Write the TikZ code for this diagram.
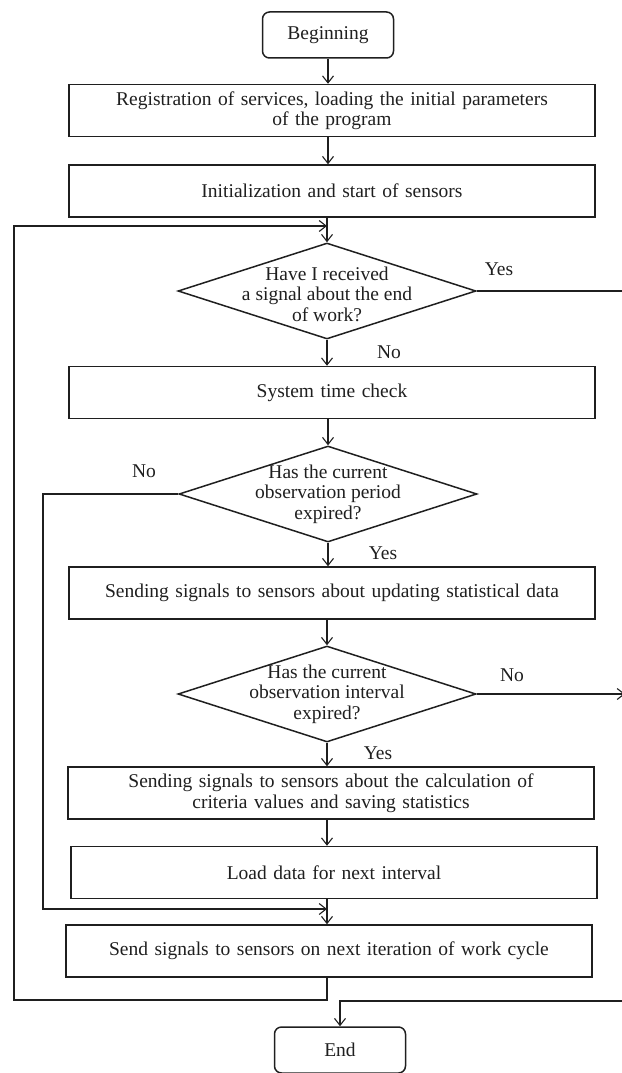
\documentclass[tikz,border=0pt]{standalone}
\usepackage{fontspec}
\setmainfont{Liberation Serif}
\usetikzlibrary{shapes.geometric,arrows.meta}
\begin{document}
\begin{tikzpicture}[x=1pt,y=-1pt,
  every node/.style={font=\fontsize{19.5}{20.5}\selectfont, text=black!88},
  proc/.style={draw=black!88, line width=1.5pt, minimum width=526pt, minimum height=52pt, text width=515pt, align=center, inner sep=0pt},
  term/.style={draw=black!88, rounded corners=7pt, line width=1.5pt, minimum width=131pt, minimum height=46pt, inner sep=0pt},
  dec/.style={draw=black!88, diamond, line width=1.5pt, minimum width=298pt, minimum height=96pt, inner sep=0pt},
  dtext/.style={align=center, inner sep=0pt},
  lbl/.style={inner sep=0pt},
  conn/.style={line width=1.3pt, draw=black!88},
  arr/.style={conn, -{Straight Barb[length=7pt,width=11pt,line width=1.1pt]}},
]
\useasboundingbox (0,0) rectangle (621,1073);

% nodes
\node[term] (begin) at (328,35) {Beginning};
\node[proc] (reg) at (332,110.5) {Registration of services, loading the initial parameters\\of the program};
\node[proc] (init) at (332,191) {Initialization and start of sensors};
\node[dec] (d1) at (327,291) {};
\node[dtext] (t1) at ([yshift=-3pt]d1.center) {Have I received\\a signal about the end\\of work?};
\node[proc] (time) at (332,392.5) {System time check};
\node[dec] (d2) at (328,494) {};
\node[dtext] (t2) at (d2.center) {Has the current\\observation period\\expired?};
\node[proc] (upd) at (332,593) {Sending signals to sensors about updating statistical data};
\node[dec] (d3) at (327,694) {};
\node[dtext] (t3) at (d3.center) {Has the current\\observation interval\\expired?};
\node[proc] (calc) at (331,793) {Sending signals to sensors about the calculation of\\criteria values and saving statistics};
\node[proc] (load) at (334,872.5) {Load data for next interval};
\node[proc] (send) at (329,951) {Send signals to sensors on next iteration of work cycle};
\node[term] (fin) at (340,1050) {End};

% labels
\node[lbl] (yes1) at (499,269) {Yes};
\node[lbl] (no1) at (389,352) {No};
\node[lbl] (no2) at (144,471) {No};
\node[lbl] (yes2) at (383,553) {Yes};
\node[lbl] (no3) at (512,675) {No};
\node[lbl] (yes3) at (378,753) {Yes};

% helper coordinates
\coordinate (outerTL) at (14,226);
\coordinate (outerBL) at (14,1000);
\coordinate (rTop) at (624,291);
\coordinate (rBot) at (624,1001);
\coordinate (noEnd) at (625,694);
\coordinate (innerL) at (43,909);

% main flow
\draw[arr] (begin.south) -- (begin.south |- reg.north);
\draw[arr] (reg.south -| begin) -- (init.north -| begin);
\draw[arr] (init.south -| d1) -- (d1.north);
\draw[arr] (d1.south) -- (time.north -| d1);
\draw[arr] (time.south -| d2) -- (d2.north);
\draw[arr] (d2.south) -- (upd.north -| d2);
\draw[arr] (upd.south -| d3) -- (d3.north);
\draw[arr] (d3.south) -- (calc.north -| d3);
\draw[arr] (calc.south -| d3) -- (load.north -| d3);
\draw[arr] (load.south -| d3) -- (send.north -| d3);

% loops
\draw[arr] (send.south -| d3) |- (outerBL) -- (outerTL) -- (outerTL -| d1);
\draw[arr] (d2.west) -| (innerL) -- (innerL -| d3);
\draw[arr] (d1.east) -- (rTop) -- (rBot) -- (rBot -| fin) -- (fin.north);
\draw[arr] (d3.east) -- (noEnd);
\end{tikzpicture}
\end{document}
